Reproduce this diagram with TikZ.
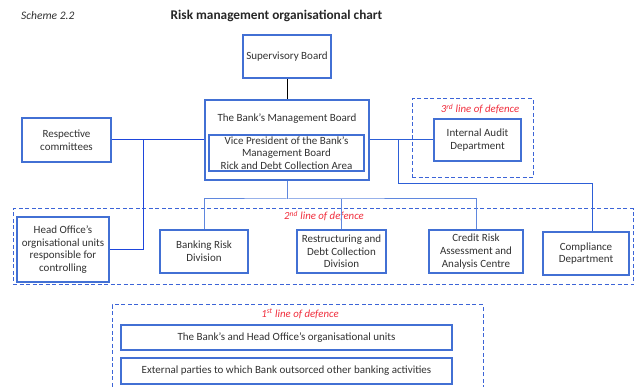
\documentclass[tikz,border=0pt]{standalone}
\usepackage{fontspec}
\setmainfont{Carlito}
\usepackage{tikz}
\usetikzlibrary{shapes}
\definecolor{boxblue}{RGB}{66,112,212}
\definecolor{darkline}{RGB}{30,70,220}
\definecolor{midline}{RGB}{45,95,215}
\definecolor{lightline}{RGB}{95,135,222}
\definecolor{dashblue}{RGB}{60,100,215}
\definecolor{tagred}{RGB}{240,45,60}
\definecolor{txtgray}{RGB}{50,50,50}
\tikzstyle{box}=[draw=boxblue,line width=1.6pt,fill=white,text=txtgray,align=center,inner sep=1pt,font=\fontsize{11}{12.6}\selectfont]
\tikzstyle{defence}=[draw=dashblue,line width=1pt,dash pattern=on 4pt off 2.5pt]
\tikzstyle{tag}=[text=tagred,inner sep=0pt,font=\fontsize{10.8}{12}\selectfont\itshape]

\begin{document}
\begin{tikzpicture}[x=1pt,y=-1pt]
        \useasboundingbox (0,0) rectangle (640,387);
        % lines of defence
        \node at (472.5,138.5) [defence,minimum width=121,minimum height=79] (l3) {};
        \node at (323,247) [defence,minimum width=620,minimum height=76] (l2) {};
        \node at (297.5,350) [defence,minimum width=371,minimum height=90] (l1) {};
        \node at (480,109) [tag] (t3) {3\textsuperscript{rd} line of defence};
        \node at (324,216) [tag] (t2) {2\textsuperscript{nd} line of defence};
        \node at (300,314) [tag] (t1) {1\textsuperscript{st} line of defence};
        % heading
        \node at (21,16) [anchor=west,text=txtgray,inner sep=0pt,font=\fontsize{11.5}{13}\selectfont\itshape] (sch) {Scheme 2.2};
        \node at (276.5,16) [text=black!85,font=\fontsize{13.3}{15}\selectfont\bfseries] (title) {Risk management organisational chart};
        % boxes
        \node at (287,56.5) [box,minimum width=88,minimum height=43] (sb) {Supervisory Board};
        \node at (287,140) [box,minimum width=164,minimum height=80] (mb) {};
        \node at (287,119) [text=txtgray,font=\fontsize{11}{12.6}\selectfont] (mbt) {The Bank's Management Board};
        \node at (286.5,153) [box,minimum width=155,minimum height=36] (vp) {Vice President of the Bank's\\Management Board\\Rick and Debt Collection Area};
        \node at (66.5,140) [box,minimum width=89,minimum height=44] (rc) {Respective\\committees};
        \node at (477.5,140) [box,minimum width=87,minimum height=42] (ia) {Internal Audit\\Department};
        \node at (63,249.5) [box,minimum width=92,minimum height=65] (ho) {Head Office's\\orgnisational units\\responsible for\\controlling};
        \node at (204,251.5) [box,minimum width=88,minimum height=43] (br) {Banking Risk\\Division};
        \node at (341.5,251.5) [box,minimum width=89,minimum height=43] (rd) {Restructuring and\\Debt Collection\\Division};
        \node at (476,251.5) [box,minimum width=94,minimum height=43] (ca) {Credit Risk\\Assessment and\\Analysis Centre};
        \node at (586,253.5) [box,minimum width=86,minimum height=43] (cd) {Compliance\\Department};
        \node at (286.5,337.5) [box,minimum width=331,minimum height=25] (bu) {The Bank's and Head Office's organisational units};
        \node at (286.5,371) [box,minimum width=331,minimum height=26] (ep) {External parties to which Bank outsorced other banking activities};
        % junctions
        \coordinate (j1) at (143,140);
        \coordinate (j2) at (398,140);
        \coordinate (j3) at (592,184);
        \coordinate (j4) at (287,199);
        % connectors
        \draw [black,line width=1pt] (sb) to (mb);
        \draw [darkline,line width=1pt] (rc) to (mb);
        \draw [darkline,line width=1pt] (ho.east) -| (j1);
        \draw [midline,line width=1pt] (mb) to (ia);
        \draw [midline,line width=1pt] (j2) |- (j3) -- (j3 |- cd.north);
        \draw [lightline,line width=1pt] (mb) to (j4);
        \draw [lightline,line width=1pt] (br.north) |- (j4) -| (ca.north);
        \draw [lightline,line width=1pt] (rd.north) to (rd.north |- j4);
      \end{tikzpicture}
\end{document}
